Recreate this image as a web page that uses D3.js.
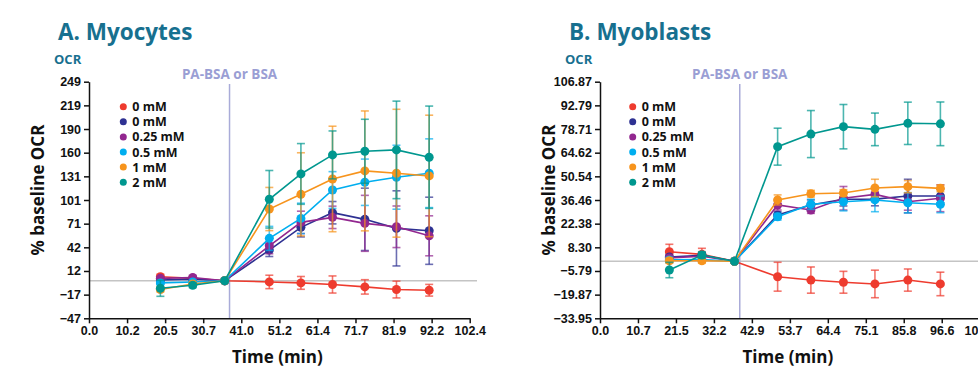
<!DOCTYPE html>
<html>
<head>
<meta charset="utf-8">
<script src="https://cdn.jsdelivr.net/npm/d3@7"></script>
<style>
  body { margin: 0; background: #fff; }
  svg { display: block; font-family: "Open Sans", sans-serif; }
  .tick text { font-size: 12.5px; font-weight: 700; fill: #111; }
  .tick line, .domain { stroke: #111; stroke-width: 1.5; }
</style>
</head>
<body>
<svg></svg>
<script>
// series shared by both panels
let seriesNames = ["0 mM", "0 mM", "0.25 mM", "0.5 mM", "1 mM", "2 mM"]
let seriesColors = ["#ee3b2e", "#2e3192", "#92278f", "#00aeef", "#f7941d", "#00978f"]

// A. Myocytes
let timeA = [19.2, 27.9, 36.5, 48.5, 57.0, 65.5, 74.2, 82.7, 91.5]
let myoRed    = [5, 3, 0, -1.5, -2.7, -4.7, -7.7, -11, -11.9]
let myoNavy   = [1, 2, 0, 38.3, 66.8, 85.1, 76.8, 65.5, 62.5]
let myoPurple = [3, 4, 0, 43.7, 73, 79.3, 71.8, 67.5, 56.2]
let myoBlue   = [-2.7, -1.5, 0, 53, 78, 113.5, 123.2, 129.5, 134.5]
let myoOrange = [-11, -4, 0, 89.7, 108.1, 127.3, 137.4, 134.5, 131.1]
let myoTeal   = [-9.5, -5.6, 0, 101.9, 133.6, 157.4, 162, 163.7, 154.5]
let myoRedErr    = [3, 2, 0, 8.4, 8, 10.7, 9, 10.5, 7.3]
let myoNavyErr   = [2, 2, 0, 8, 12, 14, 39, 47, 42]
let myoPurpleErr = [2, 2, 0, 10, 14, 14, 35, 26, 25]
let myoBlueErr   = [2, 2, 0, 15, 19, 23, 29, 40, 43]
let myoOrangeErr = [3, 2, 0, 27, 52, 66, 75, 80, 76]
let myoTealErr   = [10, 3, 0, 36, 38, 30, 40, 61, 64]
let yTicksA = [-47, -17.4, 12.2, 41.8, 71.4, 101, 130.6, 160.2, 189.8, 219.4, 249]
let xTicksA = [0, 10.24, 20.48, 30.72, 40.96, 51.2, 61.44, 71.68, 81.92, 92.16, 102.4]
let markA = 37.8

// B. Myoblasts
let timeB = [19.6, 28.8, 38.0, 50.2, 59.6, 68.8, 77.7, 87.0, 96.2]
let blastRed    = [5.7, 4.1, 0, -9.2, -11.2, -12.5, -13.5, -11.2, -13.5]
let blastNavy   = [2.5, 3.5, 0, 27.5, 33.5, 36.9, 37.0, 38.8, 38.8]
let blastPurple = [2, 3, 0, 33.5, 30.5, 37.5, 39.8, 35.4, 37.5]
let blastBlue   = [0.8, 1, 0, 26.5, 33.9, 35.4, 36.5, 34.8, 33.9]
let blastOrange = [0.3, 0.3, 0, 36.5, 40.2, 40.6, 43.6, 44.4, 43.4]
let blastTeal   = [-5.2, 3.7, 0, 68.2, 75.7, 80.1, 78.5, 82.1, 81.8]
let blastRedErr    = [4.4, 3.6, 0, 8.6, 7.8, 6.5, 8.2, 6.6, 7]
let blastNavyErr   = [1.5, 1.5, 0, 2, 3, 4, 4, 10, 4]
let blastPurpleErr = [1.5, 1.5, 0, 3, 2, 7, 4, 5, 8]
let blastBlueErr   = [1.5, 1.5, 0, 2, 3, 5.4, 7, 6, 5]
let blastOrangeErr = [1.5, 1.5, 0, 3, 2, 2, 5.2, 3.6, 2]
let blastTealErr   = [4.6, 2, 0, 11, 14, 13.2, 9.7, 12.6, 13]
let yTicksB = [-33.95, -19.868, -5.786, 8.296, 22.378, 36.46, 50.542, 64.624, 78.706, 92.788, 106.87]
let xTicksB = [0, 10.73, 21.46, 32.19, 42.92, 53.66, 64.39, 75.12, 85.84, 96.58, 107.31]
let markB = 39.5

let width = 978
let height = 376
let plotTop = 81.7
let plotBottom = 318.3

let svg = d3.select("svg").attr("width", width).attr("height", height)

let drawPanel = (p) => {
    let xScale = d3.scaleLinear().domain([0, p.xTicks[p.xTicks.length - 1]]).range([p.left, p.right])
    let yScale = d3.scaleLinear().domain([p.yTicks[0], p.yTicks[p.yTicks.length - 1]]).range([plotBottom, plotTop])

    // title and small OCR label
    svg.append("text").text(p.title)
        .attr("x", p.left - 31).attr("y", 40)
        .style("font-size", "22.5px").style("font-weight", 700).style("fill", "#17708f")
    svg.append("text").text("OCR")
        .attr("x", p.left - 35).attr("y", 64)
        .style("font-size", "13px").style("font-weight", 700).style("fill", "#17708f")

    // zero baseline
    svg.append("line")
        .attr("x1", p.left).attr("x2", p.lineEnd)
        .attr("y1", yScale(0)).attr("y2", yScale(0))
        .attr("stroke", "#c4c4c4").attr("stroke-width", 1.5)

    // treatment marker
    svg.append("line")
        .attr("x1", xScale(p.mark)).attr("x2", xScale(p.mark))
        .attr("y1", 84).attr("y2", plotBottom)
        .attr("stroke", "#a9abd8").attr("stroke-width", 1.5)
    svg.append("text").text("PA-BSA or BSA")
        .attr("x", xScale(p.mark)).attr("y", 78.5)
        .attr("text-anchor", "middle")
        .style("font-size", "13.5px").style("font-weight", 700).style("fill", "#9a9ed4")

    // axes
    svg.append("g")
        .attr("transform", "translate(0," + plotBottom + ")")
        .call(d3.axisBottom(xScale).tickValues(p.xTicks).tickFormat(d3.format(".1f")).tickSize(5).tickSizeOuter(0))
    svg.append("g")
        .attr("transform", "translate(" + p.left + ",0)")
        .call(d3.axisLeft(yScale).tickValues(p.yTicks).tickFormat(d3.format(p.yFormat)).tickSize(5).tickSizeOuter(0))

    svg.append("text").text("Time (min)")
        .attr("x", (p.left + p.right) / 2 - 2).attr("y", 363)
        .attr("text-anchor", "middle")
        .style("font-size", "17px").style("font-weight", 700).style("fill", "#111")
    svg.append("text").text("% baseline OCR")
        .attr("transform", "translate(" + (p.left - 45) + "," + 190 + ") rotate(-90)")
        .attr("text-anchor", "middle")
        .style("font-size", "17px").style("font-weight", 700).style("fill", "#111")

    // series: error bars, line, dots
    let line = d3.line()
        .x((d) => xScale(d.t))
        .y((d) => yScale(d.v))

    p.series.forEach((s, i) => {
        let pts = p.time.map((t, j) => ({ t: t, v: s[j], e: p.errors[i][j] }))
        let color = seriesColors[i]
        let g = svg.append("g")

        let bars = g.selectAll(".err")
            .data(pts.filter((d) => d.e > 0))
            .enter()
            .append("g")
            .attr("stroke", color)
            .attr("stroke-opacity", 0.7)
            .attr("stroke-width", 1.6)
        bars.append("line")
            .attr("x1", (d) => xScale(d.t)).attr("x2", (d) => xScale(d.t))
            .attr("y1", (d) => yScale(d.v - d.e)).attr("y2", (d) => yScale(d.v + d.e))
        bars.append("line")
            .attr("x1", (d) => xScale(d.t) - 4).attr("x2", (d) => xScale(d.t) + 4)
            .attr("y1", (d) => yScale(d.v + d.e)).attr("y2", (d) => yScale(d.v + d.e))
        bars.append("line")
            .attr("x1", (d) => xScale(d.t) - 4).attr("x2", (d) => xScale(d.t) + 4)
            .attr("y1", (d) => yScale(d.v - d.e)).attr("y2", (d) => yScale(d.v - d.e))

        g.append("path")
            .datum(pts)
            .attr("d", line)
            .attr("fill", "none")
            .attr("stroke", color)
            .attr("stroke-width", 1.6)

        g.selectAll("circle")
            .data(pts)
            .enter()
            .append("circle")
            .attr("cx", (d) => xScale(d.t))
            .attr("cy", (d) => yScale(d.v))
            .attr("r", 4.5)
            .attr("fill", color)
    })

    // legend
    let legend = svg.append("g")
    seriesNames.forEach((name, i) => {
        legend.append("circle")
            .attr("cx", p.legendX).attr("cy", 106.7 + i * 15.1)
            .attr("r", 3.5).attr("fill", seriesColors[i])
        legend.append("text").text(name)
            .attr("x", p.legendX + 9).attr("y", 106.7 + i * 15.1 + 4.5)
            .style("font-size", "12.5px").style("font-weight", 700).style("fill", "#111")
    })
}

drawPanel({
    title: "A. Myocytes", left: 89, right: 469.7, lineEnd: 477, legendX: 123.3,
    xTicks: xTicksA, yTicks: yTicksA, yFormat: ".0f", mark: markA, time: timeA,
    series: [myoRed, myoNavy, myoPurple, myoBlue, myoOrange, myoTeal],
    errors: [myoRedErr, myoNavyErr, myoPurpleErr, myoBlueErr, myoOrangeErr, myoTealErr]
})

drawPanel({
    title: "B. Myoblasts", left: 600, right: 979.7, lineEnd: 978, legendX: 632.7,
    xTicks: xTicksB, yTicks: yTicksB, yFormat: ".2f", mark: markB, time: timeB,
    series: [blastRed, blastNavy, blastPurple, blastBlue, blastOrange, blastTeal],
    errors: [blastRedErr, blastNavyErr, blastPurpleErr, blastBlueErr, blastOrangeErr, blastTealErr]
})
</script>
</body>
</html>
